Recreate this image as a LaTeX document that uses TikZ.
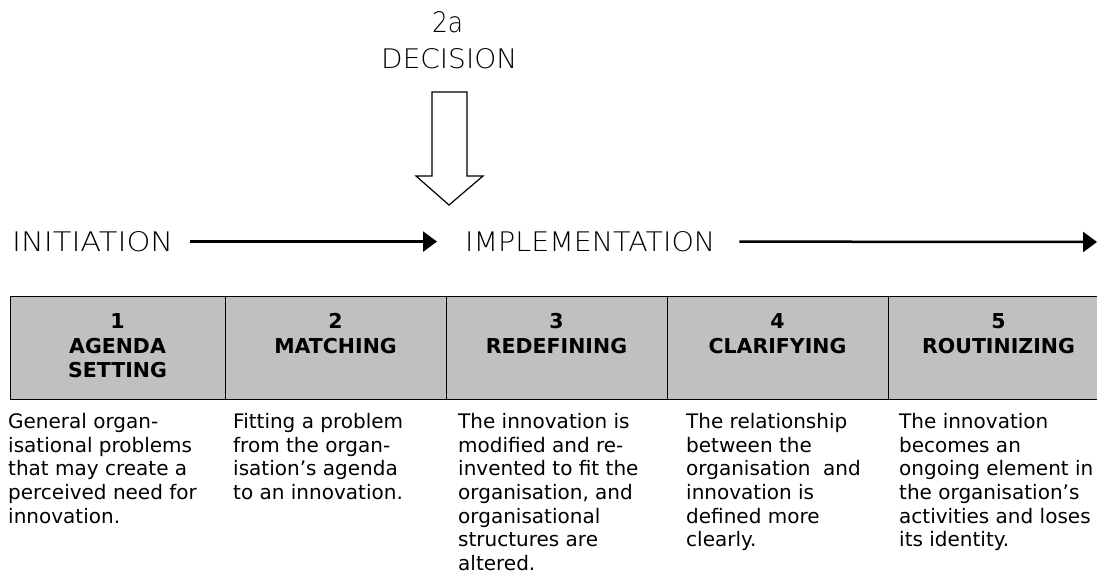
\documentclass[tikz,border=0pt]{standalone}
\usepackage{fontspec}
\setmainfont{DejaVu Sans}
\newfontfamily\lab{DejaVu Sans ExtraLight}
\usetikzlibrary{arrows.meta}
\definecolor{cellgray}{RGB}{192,192,192}
\begin{document}
\begin{tikzpicture}[x=1pt,y=-1pt,
  toplabel/.style={inner sep=0pt, anchor=south west},
  cell/.style={draw=black, line width=1.3pt, fill=cellgray, minimum width=221pt, minimum height=103pt, inner sep=0pt, anchor=north west},
  head/.style={font=\bfseries\fontsize{20.5}{24.5}\selectfont, align=center, inner sep=0pt, anchor=north},
  body/.style={font=\fontsize{20}{23.7}\selectfont, align=left, inner sep=0pt, anchor=north west},
  flow/.style={line width=2.5pt, -{Triangle[length=14pt,width=20pt]}},
  hollow/.style={draw=black, line width=1.2pt, fill=white}]
\useasboundingbox (0,0) rectangle (1097,575);
\clip (0,0) rectangle (1097,575);

% top labels
\node[toplabel] (twoa) at (432,33) {\resizebox{31pt}{21pt}{\lab 2a}};
\node[toplabel] (dec) at (381,69) {\resizebox{136pt}{20pt}{\lab DECISION}};
\node[toplabel] (init) at (12,252) {\resizebox{161pt}{20pt}{\lab INITIATION}};
\node[toplabel] (impl) at (465,252) {\resizebox{250pt}{20pt}{\lab IMPLEMENTATION}};
\coordinate (flowend) at (1097,242);

% hollow decision arrow
\draw[hollow] (432,92) -- (467,92) -- (467,176) -- (483,176) -- (449,205) -- (416,176) -- (432,176) -- cycle;

% flow arrows
\draw[flow, shorten <=17pt, shorten >=28pt] (init.east) -- (impl.west);
\draw[flow, shorten <=24pt] (impl.east) -- (flowend);

% table cells
\node[cell, minimum width=215pt] (c1) at (10,296) {};
\node[cell] (c2) at (225,296) {};
\node[cell] (c3) at (446,296) {};
\node[cell] (c4) at (667,296) {};
\node[cell] (c5) at (888,296) {};

% headers
\node[head] (h1) at (117.5,313.4) {1\\AGENDA\\SETTING};
\node[head] (h2) at (335.5,313.4) {2\\MATCHING};
\node[head] (h3) at (556.5,313.4) {3\\REDEFINING};
\node[head] (h4) at (777.5,313.4) {4\\CLARIFYING};
\node[head] (h5) at (998.5,313.4) {5\\ROUTINIZING};

% descriptions
\node[body] (d1) at (8,413) {General organ-\\isational problems\\that may create a\\perceived need for\\innovation.};
\node[body] (d2) at (233,413) {Fitting a problem\\from the organ-\\isation’s agenda\\to an innovation.};
\node[body] (d3) at (458,413) {The innovation is\\modified and re-\\invented to fit the\\organisation, and\\organisational\\structures are\\altered.};
\node[body] (d4) at (686,413) {The relationship\\between the\\organisation\ \ and\\innovation is\\defined more\\clearly.};
\node[body] (d5) at (899,413) {The innovation\\becomes an\\ongoing element in\\the organisation’s\\activities and loses\\its identity.};
\end{tikzpicture}
\end{document}
